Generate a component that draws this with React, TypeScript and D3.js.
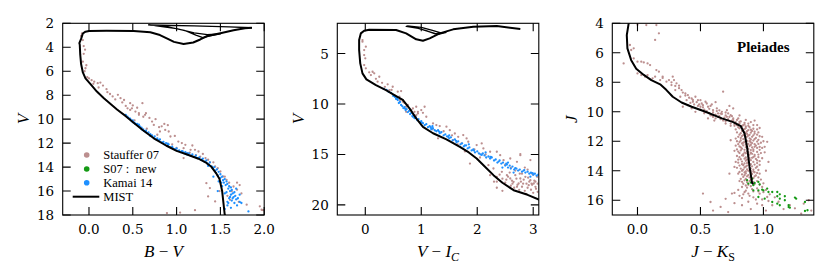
// Pleiades CMD figure, v7 (three panels: B-V, V-Ic, J-Ks)
import * as d3 from 'd3';
import React from 'react';

type Pt = [number, number];

const LEGEND_LABELS = ['Stauffer 07', 'S07 :  new', 'Kamai 14', 'MIST'];

const BV_TICKS = [0.0, 0.5, 1.0, 1.5, 2.0];
const V1_TICKS = [2, 4, 6, 8, 10, 12, 14, 16, 18];
const VI_TICKS = [0, 1, 2, 3];
const V2_TICKS = [5, 10, 15, 20];
const JK_TICKS = [0.0, 0.5, 1.0];
const J_TICKS = [4, 6, 8, 10, 12, 14, 16];

// ---------- Panel 1: B-V vs V ----------
const MIST_BV: Pt[] = [
  [1.57, 18.6], [1.55, 18], [1.535, 17], [1.52, 16], [1.49, 15], [1.45, 14.5], [1.4, 14.0], [1.33, 13.6],
  [1.25, 13.3], [1.12, 12.95], [1.0, 12.65], [0.88, 12.2], [0.74, 11.6], [0.62, 10.95], [0.51, 10.3],
  [0.42, 9.75], [0.32, 9.2], [0.24, 8.7], [0.17, 8.25], [0.09, 7.7], [0.02, 7.1], [-0.04, 6.6], [-0.07, 6.1],
  [-0.09, 5.4], [-0.1, 4.6], [-0.105, 3.8], [-0.11, 3.65], [-0.09, 3.3], [-0.07, 2.85], [-0.04, 2.7],
  [0.0, 2.64], [0.2, 2.63], [0.51, 2.65], [0.7, 2.75], [0.81, 2.98], [0.9, 3.3], [0.97, 3.55], [1.08, 3.72],
  [1.19, 3.6], [1.27, 3.35], [1.35, 3.06], [1.5, 2.83], [1.65, 2.58], [1.78, 2.42], [1.86, 2.37],
];
const MIST_BV_LATE: Pt[] = [
  [1.86, 2.37], [1.6, 2.3], [1.2, 2.22], [0.68, 2.14], [0.9, 2.3], [1.1, 2.62], [1.22, 2.98], [1.3, 3.2],
  [1.38, 3.05], [1.5, 2.88], [1.35, 2.95], [1.2, 2.8], [1.0, 2.45], [0.75, 2.2],
];
const STAUFFER_BV: Pt[] = [
  [-0.08, 2.85], [-0.09, 3.05], [-0.07, 3.4], [-0.06, 3.9], [-0.045, 4.2], [-0.06, 4.55], [-0.07, 5.2],
  [-0.03, 5.5], [-0.04, 5.75], [-0.05, 6.0], [-0.02, 6.5], [0.0, 6.6], [0.03, 6.75], [0.06, 6.87], [0.05, 7.05],
  [0.1, 7.0], [0.13, 6.95], [0.16, 7.2], [0.11, 7.36], [0.2, 7.5], [0.21, 7.75], [0.24, 7.9], [0.27, 8.1],
  [0.33, 7.97], [0.36, 8.25], [0.3, 8.35], [0.4, 8.4], [0.38, 8.6], [0.47, 8.67], [0.61, 8.67], [0.42, 8.9],
  [0.44, 9.1], [0.49, 9.1], [0.5, 8.85], [0.53, 9.37], [0.55, 9.05], [0.47, 9.23], [0.57, 9.5], [0.65, 9.5],
  [0.64, 9.64], [0.57, 9.64], [0.62, 9.8], [0.72, 10.2], [0.74, 10.48], [0.8, 10.67], [0.83, 10.6],
  [0.87, 10.9], [0.91, 11.03], [0.81, 11.03], [0.86, 10.4], [0.9, 10.5], [0.93, 11.45], [1.02, 11.87],
  [1.06, 12.0], [1.1, 12.14], [1.08, 12.42], [1.16, 12.56], [1.21, 12.56], [1.25, 12.7], [1.12, 12.84],
  [1.08, 13.25], [1.27, 13.12], [1.33, 13.25], [1.36, 13.39], [1.38, 13.6], [1.44, 13.95], [1.5, 14.37],
  [1.53, 14.78], [1.57, 15.06], [1.34, 15.34], [1.38, 15.75], [1.65, 15.62], [1.69, 15.89], [1.61, 16.73],
  [1.36, 16.45], [1.44, 16.87], [1.8, 17.14], [1.95, 17.28], [1.97, 17.56], [0.89, 17.84], [1.04, 17.8],
  [1.21, 17.6], [1.69, 15.3], [1.72, 15.5], [1.99, 17.6], [0.98, 11.4], [1.0, 12.4], [0.76, 10.0],
  [0.69, 9.9], [1.18, 12.2], [1.3, 12.9], [1.42, 13.6], [1.47, 14.1], [1.55, 14.8], [1.6, 15.3], [1.63, 16.0],
  [1.58, 16.4], [1.71, 16.9], [1.49, 16.0], [1.74, 16.2], [0.52, 10.1], [0.66, 10.8], [0.78, 11.3],
  [0.95, 12.1], [1.15, 12.8], [1.22, 13.0],
];
const KAMAI_BV: Pt[] = [
  [0.42, 9.65], [0.44, 9.8], [0.45, 9.9], [0.47, 9.95], [0.48, 10.1], [0.5, 10.1], [0.5, 10.25], [0.52, 10.3],
  [0.53, 10.4], [0.55, 10.4], [0.56, 10.55], [0.58, 10.6], [0.6, 10.7], [0.6, 10.85], [0.62, 10.85],
  [0.63, 11.0], [0.65, 10.95], [0.66, 11.15], [0.68, 11.1], [0.7, 11.25], [0.7, 11.4], [0.72, 11.35],
  [0.74, 11.55], [0.75, 11.45], [0.77, 11.7], [0.78, 11.6], [0.8, 11.8], [0.81, 11.7], [0.83, 11.95],
  [0.85, 11.9], [0.86, 12.1], [0.88, 12.0], [0.9, 12.2], [0.91, 12.1], [0.93, 12.35], [0.95, 12.3],
  [0.96, 12.45], [0.98, 12.5], [1.0, 12.45], [1.01, 12.65], [1.03, 12.6], [1.05, 12.75], [1.07, 12.7],
  [1.09, 12.85], [1.1, 12.75], [1.12, 12.95], [1.14, 12.85], [1.16, 13.05], [1.18, 12.95], [1.2, 13.15],
  [1.22, 13.05], [1.24, 13.25], [1.26, 13.2], [1.28, 13.4], [1.3, 13.3], [1.32, 13.55], [1.34, 13.45],
  [1.35, 13.7], [1.37, 13.8], [1.38, 13.6], [1.4, 13.95], [1.41, 14.1], [1.43, 14.0], [1.44, 14.3],
  [1.46, 14.2], [1.45, 14.5], [1.48, 14.4], [1.47, 14.7], [1.5, 14.6], [1.5, 14.9], [1.52, 14.8],
  [1.53, 15.1], [1.55, 15.0], [1.54, 15.3], [1.57, 15.2], [1.56, 15.5], [1.58, 15.4], [1.6, 15.6],
  [1.59, 15.8], [1.62, 15.7], [1.61, 16.0], [1.63, 15.9], [1.64, 16.2], [1.62, 16.3], [1.66, 16.1],
  [1.65, 16.5], [1.67, 16.4], [1.6, 16.6], [1.68, 16.7], [1.63, 16.8], [1.7, 16.6], [1.58, 16.9],
  [1.66, 17.0], [1.72, 16.9], [1.55, 16.2], [1.52, 15.6], [1.48, 15.2], [1.58, 17.2], [1.62, 17.4],
  [1.69, 17.2], [1.74, 17.0], [1.55, 17.5], [1.82, 17.7], [1.47, 16.0], [1.42, 14.8], [1.72, 16.3],
  [1.68, 15.8], [1.36, 13.9], [1.12, 12.85], [0.9, 12.05], [0.65, 11.05], [0.57, 10.45], [0.79, 11.75],
  [1.06, 12.68], [1.29, 13.35], [1.57, 16.1], [1.61, 16.5], [1.51, 15.3], [1.64, 16.6], [1.59, 17.0],
];

// ---------- Panel 2: V-I vs V ----------
const MIST_VI: Pt[] = [
  [3.2, 19.8], [3.1, 19.46], [2.9, 19.0], [2.65, 18.54], [2.45, 17.8], [2.29, 17.05], [2.17, 16.4],
  [2.08, 15.9], [1.99, 15.4], [1.85, 14.8], [1.69, 14.24], [1.45, 13.5], [1.21, 12.9], [1.03, 12.26],
  [0.91, 11.42], [0.79, 10.43], [0.67, 9.6], [0.52, 9.11], [0.37, 8.62], [0.19, 8.12], [0.02, 7.56],
  [-0.05, 6.96], [-0.09, 5.97], [-0.11, 4.65], [-0.11, 3.66], [-0.08, 3.0], [-0.02, 2.73], [0.07, 2.63],
  [0.55, 2.66], [0.73, 3.0], [0.91, 3.59], [1.03, 3.73], [1.15, 3.49], [1.33, 3.0], [1.57, 2.6],
  [1.93, 2.34], [2.35, 2.27], [2.77, 2.57],
];
const MIST_VI_LATE: Pt[] = [
  [1.45, 2.9], [1.3, 3.1], [1.15, 2.85], [0.95, 2.5], [0.73, 2.3], [0.9, 2.42], [1.1, 2.75], [1.25, 3.05],
  [1.35, 2.95], [1.2, 2.7], [1.0, 2.4], [0.75, 2.25],
];
const STAUFFER_VI: Pt[] = [
  [-0.05, 3.66], [-0.05, 3.82], [0.01, 4.32], [-0.02, 4.65], [-0.02, 5.15], [0.0, 5.47], [-0.02, 6.14],
  [0.01, 6.46], [0.07, 6.86], [0.1, 7.13], [0.16, 6.96], [0.13, 6.8], [0.25, 7.3], [0.19, 7.5], [0.22, 7.79],
  [0.4, 8.05], [0.49, 8.29], [0.43, 8.62], [0.58, 8.78], [0.64, 8.72], [0.52, 9.11], [0.61, 9.28],
  [0.67, 9.61], [0.7, 9.9], [0.76, 10.1], [0.82, 10.6], [0.88, 10.77], [0.94, 10.93], [1.0, 10.6],
  [0.91, 10.27], [0.73, 10.77], [0.3, 7.9], [0.35, 8.3], [0.47, 8.6], [0.55, 9.4], [0.62, 9.6],
  [0.67, 9.77], [0.73, 10.27], [0.85, 10.44], [0.94, 10.77], [1.03, 10.87], [0.91, 11.1], [1.06, 10.27],
  [1.09, 11.26], [1.21, 11.92], [1.27, 12.09], [1.33, 12.19], [1.45, 12.25], [1.51, 12.59], [1.6, 12.92],
  [1.66, 13.25], [1.75, 13.08], [1.81, 13.41], [1.57, 13.58], [1.72, 13.91], [1.84, 13.74], [1.99, 14.07],
  [2.08, 13.91], [2.11, 14.4], [2.23, 14.73], [2.35, 14.73], [2.41, 15.07], [2.47, 15.56], [2.59, 15.4],
  [2.71, 15.73], [2.77, 15.07], [2.77, 14.97], [2.95, 15.56], [2.2, 16.06], [2.29, 16.39], [2.23, 17.05],
  [2.35, 17.22], [2.44, 16.72], [2.53, 17.05], [2.59, 17.38], [2.68, 17.05], [2.77, 17.38], [2.86, 17.22],
  [2.95, 17.55], [3.01, 17.88], [3.07, 17.22], [2.92, 18.04], [2.74, 17.88], [2.65, 17.71], [2.98, 16.9],
  [3.04, 18.21], [1.87, 15.9], [2.35, 17.7], [2.4, 17.0], [2.45, 17.4], [2.5, 17.8], [2.55, 17.2],
  [2.6, 18.1], [2.62, 17.6], [2.66, 18.3], [2.7, 17.4], [2.72, 18.0], [2.75, 18.5], [2.78, 17.7],
  [2.8, 18.2], [2.83, 17.5], [2.85, 18.6], [2.88, 17.9], [2.9, 18.3], [2.93, 17.7], [2.96, 18.5],
  [2.98, 18.0], [3.0, 18.8], [3.02, 17.6], [3.05, 18.4], [3.08, 17.9], [3.08, 18.7], [2.58, 16.8],
  [2.68, 16.6], [2.8, 16.9], [2.9, 16.5], [3.0, 17.0], [2.3, 17.7], [2.35, 18.3], [2.45, 18.6], [1.4, 12.7],
  [1.55, 13.1], [1.95, 14.5], [2.15, 15.0], [2.5, 16.0], [2.6, 16.3], [2.85, 16.3], [1.2, 12.5],
  [1.65, 14.0], [2.05, 15.3], [1.3, 13.4], [1.78, 14.7], [2.52, 17.5], [2.63, 17.9], [2.71, 18.2],
  [2.82, 17.9], [2.91, 17.3], [3.04, 17.7], [2.76, 16.9], [2.87, 18.9], [2.97, 17.9],
];
const KAMAI_VI: Pt[] = [
  [0.33, 8.5], [0.38, 8.6], [0.42, 8.8], [0.46, 8.9], [0.5, 9.2], [0.53, 9.3], [0.55, 9.5], [0.58, 9.6],
  [0.6, 9.9], [0.62, 9.8], [0.64, 10.1], [0.66, 10.2], [0.68, 10.4], [0.7, 10.3], [0.72, 10.6], [0.74, 10.5],
  [0.76, 10.8], [0.78, 10.7], [0.8, 11.0], [0.82, 10.9], [0.84, 11.2], [0.86, 11.1], [0.88, 11.4],
  [0.9, 11.3], [0.93, 11.6], [0.95, 11.5], [0.98, 11.8], [1.0, 11.7], [1.03, 11.9], [1.06, 12.1],
  [1.09, 12.0], [1.12, 12.3], [1.15, 12.2], [1.18, 12.5], [1.21, 12.4], [1.24, 12.6], [1.27, 12.7],
  [1.3, 12.6], [1.33, 12.9], [1.36, 12.8], [1.4, 13.1], [1.43, 13.0], [1.46, 13.2], [1.5, 13.4],
  [1.53, 13.3], [1.56, 13.6], [1.6, 13.5], [1.63, 13.8], [1.66, 13.7], [1.7, 14.0], [1.73, 13.9],
  [1.76, 14.2], [1.8, 14.1], [1.83, 14.4], [1.86, 14.3], [1.9, 14.6], [1.93, 14.5], [1.96, 14.8],
  [2.0, 14.7], [2.03, 14.9], [2.06, 15.0], [2.1, 14.9], [2.13, 15.1], [2.16, 15.3], [2.2, 15.2],
  [2.23, 15.4], [2.26, 15.3], [2.3, 15.6], [2.33, 15.5], [2.36, 15.8], [2.4, 15.6], [2.43, 15.9],
  [2.46, 15.8], [2.5, 16.1], [2.52, 15.9], [2.55, 16.3], [2.58, 16.1], [2.6, 16.4], [2.63, 16.2],
  [2.66, 16.5], [2.7, 16.4], [2.73, 16.6], [2.76, 16.5], [2.8, 16.7], [2.83, 16.6], [2.86, 16.8],
  [2.9, 16.7], [2.93, 16.9], [2.96, 16.8], [3.0, 17.0], [3.03, 16.9], [3.06, 17.1], [3.09, 17.0],
  [2.45, 16.3], [2.55, 15.8], [2.15, 14.8], [1.85, 14.0], [1.5, 13.1], [1.2, 12.2], [2.65, 16.8],
  [2.95, 17.2], [0.57, 9.45], [0.71, 10.45], [0.85, 11.25], [1.01, 11.85], [1.17, 12.35], [1.32, 12.75],
  [1.48, 13.25], [1.62, 13.65], [1.78, 14.1], [1.94, 14.6], [2.08, 15.05], [2.24, 15.25], [2.38, 15.7],
  [2.53, 16.0], [2.68, 16.35], [2.84, 16.55], [2.99, 16.85],
];

// ---------- Panel 3: J-Ks vs J ----------
const MIST_JK: Pt[] = [
  [-0.065, 3.8], [-0.07, 4.0], [-0.085, 4.8], [-0.08, 5.7], [-0.05, 6.5], [-0.01, 7.08], [0.05, 7.5],
  [0.11, 7.85], [0.18, 8.14], [0.23, 8.53], [0.28, 8.98], [0.35, 9.37], [0.43, 9.66], [0.54, 10.0],
  [0.67, 10.45], [0.76, 10.7], [0.82, 10.98], [0.85, 11.47], [0.87, 12.38], [0.89, 13.74], [0.91, 14.83],
  [0.92, 14.9],
];
const STAUFFER_JK: Pt[] = [
  [0.0, 4.1], [0.07, 4.12], [0.15, 4.12], [0.17, 4.68], [0.14, 5.13], [-0.06, 5.47], [-0.05, 5.81],
  [-0.03, 5.7], [-0.11, 6.72], [-0.03, 6.38], [0.0, 6.6], [0.03, 6.6], [0.05, 6.65], [0.08, 6.72],
  [0.1, 6.83], [0.0, 7.4], [0.03, 7.51], [0.06, 7.62], [0.08, 7.51], [0.12, 7.73], [0.15, 7.17],
  [0.17, 7.28], [0.14, 7.62], [0.18, 7.85], [0.2, 7.62], [0.23, 7.96], [0.28, 7.62], [0.29, 7.85],
  [0.27, 8.19], [0.31, 8.07], [0.33, 8.23], [0.3, 8.53], [0.35, 8.53], [0.38, 8.76], [0.4, 8.87],
  [0.34, 8.98], [0.39, 9.21], [0.43, 9.1], [0.46, 8.98], [0.44, 9.32], [0.48, 9.21], [0.51, 9.44],
  [0.54, 9.32], [0.56, 9.66], [0.5, 9.66], [0.59, 9.5], [0.63, 9.77], [0.68, 8.64], [0.67, 10.0],
  [0.64, 10.11], [0.71, 9.89], [0.74, 10.23], [0.72, 10.11], [0.76, 9.77], [0.43, 9.77], [0.46, 10.0],
  [0.54, 10.0], [0.59, 10.23], [0.56, 10.45], [0.4, 9.55], [0.36, 9.66], [0.45, 9.5], [0.48, 9.6],
  [0.5, 9.85], [0.52, 9.7], [0.55, 9.95], [0.57, 9.8], [0.6, 10.05], [0.62, 10.2], [0.63, 9.95],
  [0.65, 10.3], [0.67, 10.15], [0.69, 10.4], [0.7, 10.25], [0.72, 10.5], [0.73, 10.35], [0.75, 10.6],
  [0.76, 10.45], [0.78, 10.7], [0.79, 10.55], [0.8, 10.85], [0.82, 10.65], [0.83, 10.95], [0.85, 10.75],
  [0.86, 10.55], [0.88, 10.95], [0.77, 10.95], [0.7, 10.65], [0.62, 10.45], [0.58, 10.25], [0.53, 10.1],
  [0.44, 9.2], [0.5, 9.21], [0.55, 9.44], [0.6, 9.89], [0.66, 10.12], [0.71, 10.34], [0.76, 10.57],
  [0.74, 10.8], [0.81, 10.68], [0.84, 10.91], [0.88, 10.8], [0.79, 10.91], [0.92, 10.9], [0.9, 10.7],
  [0.2, 7.7], [0.25, 7.85], [0.27, 8.0], [0.3, 8.25], [0.33, 8.4], [0.36, 8.7], [0.38, 8.9], [0.41, 9.05],
  [0.42, 9.4], [0.47, 9.35], [0.49, 9.5], [0.52, 9.55], [0.53, 9.85], [0.57, 10.1], [0.6, 10.35],
  [0.64, 10.35], [0.66, 10.5], [0.68, 10.6], [0.7, 10.8], [0.74, 10.95], [0.77, 10.85], [0.81, 10.8],
  [0.85, 10.85], [0.86, 11.0], [0.61, 10.6], [0.65, 9.9], [0.7, 10.05], [0.58, 9.6], [0.75, 10.3],
  [0.8, 10.45], [0.93, 10.6], [0.95, 10.9], [0.97, 11.1], [0.73, 9.6], [0.62, 9.35], [0.81, 10.25],
  [0.8, 11.05], [0.83, 11.0], [0.86, 11.1], [0.89, 11.05], [0.92, 11.15], [0.78, 11.2], [0.84, 11.22],
  [0.88, 11.25], [0.91, 11.3], [0.95, 11.2], [0.79, 11.4], [0.82, 11.45], [0.85, 11.38], [0.87, 11.5],
  [0.9, 11.42], [0.93, 11.48], [0.96, 11.4], [0.81, 11.55], [0.8, 11.7], [0.83, 11.65], [0.86, 11.75],
  [0.88, 11.62], [0.91, 11.7], [0.94, 11.78], [0.97, 11.66], [0.84, 11.85], [0.9, 11.88], [0.78, 11.82],
  [0.79, 12.0], [0.82, 11.95], [0.85, 12.05], [0.87, 11.98], [0.9, 12.08], [0.92, 11.95], [0.95, 12.02],
  [0.98, 12.1], [0.83, 12.15], [0.88, 12.18], [0.93, 12.2], [1.0, 12.0], [0.78, 12.3], [0.81, 12.35],
  [0.84, 12.28], [0.86, 12.4], [0.89, 12.32], [0.91, 12.42], [0.94, 12.3], [0.97, 12.38], [0.99, 12.45],
  [0.83, 12.5], [0.88, 12.52], [0.92, 12.55], [0.77, 12.65], [0.8, 12.7], [0.82, 12.62], [0.85, 12.75],
  [0.87, 12.68], [0.9, 12.78], [0.92, 12.66], [0.95, 12.72], [0.98, 12.8], [0.84, 12.88], [0.89, 12.9],
  [0.93, 12.92], [1.01, 12.75], [0.79, 13.0], [0.81, 13.08], [0.84, 12.98], [0.86, 13.1], [0.88, 13.02],
  [0.91, 13.12], [0.93, 13.0], [0.96, 13.08], [0.82, 13.22], [0.87, 13.25], [0.9, 13.28], [0.94, 13.2],
  [0.99, 13.15], [0.78, 13.4], [0.8, 13.45], [0.83, 13.38], [0.85, 13.5], [0.88, 13.42], [0.9, 13.55],
  [0.92, 13.4], [0.95, 13.48], [0.84, 13.62], [0.87, 13.65], [0.91, 13.7], [0.97, 13.6], [0.79, 13.8],
  [0.82, 13.85], [0.85, 13.78], [0.87, 13.9], [0.89, 13.82], [0.92, 13.92], [0.94, 13.8], [0.83, 14.0],
  [0.86, 14.05], [0.9, 14.02], [0.93, 14.1], [0.96, 13.95], [0.8, 14.2], [0.83, 14.25], [0.86, 14.18],
  [0.88, 14.3], [0.91, 14.22], [0.94, 14.32], [0.97, 14.2], [0.84, 14.42], [0.89, 14.45], [0.92, 14.5],
  [0.82, 14.55], [0.81, 14.7], [0.85, 14.65], [0.87, 14.78], [0.9, 14.62], [0.95, 14.7], [0.98, 14.6],
  [0.84, 14.88], [0.88, 14.95], [0.93, 14.9], [1.0, 14.85], [0.83, 15.1], [0.87, 15.15], [0.9, 15.05],
  [0.95, 15.2], [0.99, 15.1], [0.8, 15.3], [0.86, 15.35], [0.92, 15.4], [1.02, 15.3], [0.77, 15.5],
  [0.84, 15.6], [0.97, 15.55], [0.75, 15.55], [0.89, 15.7], [1.05, 15.6], [0.83, 15.85], [0.94, 15.95],
  [1.09, 15.8], [0.58, 16.12], [0.6, 16.7], [0.83, 16.34], [0.95, 16.23], [1.03, 15.78], [1.07, 16.34],
  [0.99, 16.34], [1.21, 16.34], [1.32, 16.23], [1.36, 16.0], [1.38, 16.7], [1.16, 16.6], [0.7, 15.9],
  [0.52, 15.55], [0.74, 11.93], [0.77, 13.74], [1.03, 12.04], [1.01, 12.38], [0.99, 11.7], [1.04, 13.4],
  [0.73, 14.2], [1.02, 14.0],
  [0.81, 11.12], [0.85, 11.18], [0.87, 11.32], [0.9, 11.22], [0.83, 11.3], [0.93, 11.35], [0.86, 11.45],
  [0.89, 11.56], [0.84, 11.58], [0.92, 11.6], [0.95, 11.55], [0.87, 11.68], [0.82, 11.78], [0.89, 11.8],
  [0.93, 11.85], [0.96, 11.9], [0.86, 11.92], [0.81, 12.05], [0.84, 12.1], [0.89, 12.0], [0.91, 12.12],
  [0.96, 12.18], [0.86, 12.22], [0.8, 12.2], [0.9, 12.25], [0.95, 12.45], [0.82, 12.42], [0.87, 12.46],
  [0.93, 12.38], [0.85, 12.58], [0.9, 12.6], [0.97, 12.58], [0.79, 12.55], [0.86, 12.82], [0.91, 12.85],
  [0.96, 12.9], [0.81, 12.8], [0.88, 12.72], [0.83, 12.95], [0.89, 13.15], [0.92, 13.08], [0.85, 13.18],
  [0.95, 13.3], [0.8, 13.25], [0.86, 13.32], [0.97, 13.35], [0.83, 13.55], [0.87, 13.48], [0.89, 13.62],
  [0.93, 13.58], [0.81, 13.65], [0.86, 13.72], [0.95, 13.72], [0.9, 13.85], [0.84, 13.92], [0.88, 14.0],
  [0.92, 14.05], [0.81, 14.08], [0.95, 14.15], [0.85, 14.12], [0.9, 14.15], [0.87, 14.38], [0.93, 14.38],
  [0.85, 14.3], [0.91, 14.55], [0.86, 14.55], [0.96, 14.45], [0.89, 14.7], [0.83, 14.75], [0.92, 14.78],
  [0.97, 14.95], [0.86, 15.0], [0.91, 15.25], [0.85, 15.45], [0.88, 15.55], [0.96, 15.4], [1.0, 15.45],
  [0.81, 15.7], [0.92, 15.8], [0.99, 15.95], [1.04, 16.05], [0.88, 16.1], [0.77, 16.2], [1.12, 16.1],
  [1.25, 16.55], [1.3, 16.9], [0.66, 16.45], [0.72, 16.8], [0.9, 16.6], [1.02, 16.7],
];
const NEW_JK: Pt[] = [
  [0.87, 14.64], [0.88, 14.87], [0.91, 14.53], [0.93, 14.83], [0.96, 14.76], [0.97, 14.92], [0.92, 14.98],
  [0.9, 14.8], [0.99, 15.28], [1.0, 15.33], [1.03, 15.21], [0.96, 15.78], [0.92, 15.33], [1.01, 15.89],
  [1.07, 15.44], [1.11, 15.44], [1.11, 15.73], [1.13, 15.6], [1.13, 15.89], [1.17, 15.73], [1.17, 16.0],
  [1.13, 16.34], [1.07, 16.12], [1.2, 16.34], [1.21, 16.5], [1.26, 15.89], [1.35, 16.68], [1.33, 16.12],
  [0.96, 15.33], [1.04, 15.44], [1.11, 16.23], [1.2, 16.46], [1.33, 16.73], [1.25, 15.82],
];

// ---------- styling ----------
const C_STAUFFER = '#bc8f8f';
const C_KAMAI = '#1e90ff';
const C_NEW = '#159a15';
const SERIF = { fontFamily: "'Liberation Serif'" };
const TICKSERIF = { fontFamily: "'DejaVu Serif'" };
const TOP = 23.3;
const BOTTOM = 215;
const PW = 201.5;
const TICK = 8;
const R = 1.15;

interface Series { data: Pt[]; color: string }

interface PanelProps {
  id: string;
  left: number;
  xDomain: [number, number];
  yDomain: [number, number];
  xTicks: number[];
  yTicks: number[];
  xFmt: (v: number) => string;
  series: Series[];
  lines: Pt[][];
  xLabel: React.ReactNode;
  yLabel: string;
  yLabelX: number;
}

function dotsPath(data: Pt[], x: d3.ScaleLinear<number, number>, y: d3.ScaleLinear<number, number>) {
  const p = d3.path();
  for (const d of data) {
    const cx = x(d[0]);
    const cy = y(d[1]);
    p.moveTo(cx + R, cy);
    p.arc(cx, cy, R, 0, Math.PI * 2);
  }
  return p.toString();
}

function Panel(p: PanelProps) {
  const x = d3.scaleLinear().domain(p.xDomain).range([p.left, p.left + PW]);
  const y = d3.scaleLinear().domain(p.yDomain).range([TOP, BOTTOM]);
  const line = d3.line<Pt>().x(d => x(d[0])).y(d => y(d[1]));
  const right = p.left + PW;
  const tickPath = [
    ...p.xTicks.map(t => `M${x(t)},${BOTTOM}V${BOTTOM - TICK}M${x(t)},${TOP}V${TOP + TICK}`),
    ...p.yTicks.map(t => `M${p.left},${y(t)}H${p.left + TICK}M${right},${y(t)}H${right - TICK}`),
  ].join('');
  return (
    <g>
      <defs>
        <clipPath id={p.id}>
          <rect x={p.left} y={TOP} width={PW} height={BOTTOM - TOP} />
        </clipPath>
      </defs>
      <g clipPath={`url(#${p.id})`}>
        {p.series.map((s, si) => (
          <path key={si} d={dotsPath(s.data, x, y)} fill={s.color} />
        ))}
        {p.lines.map((l, i) => (
          <path key={i} d={line(l) || ''} fill="none" stroke="#000" strokeWidth={i === 0 ? 2 : 1.3} strokeLinejoin="round" />
        ))}
      </g>
      <rect x={p.left} y={TOP} width={PW} height={BOTTOM - TOP} fill="none" stroke="#000" strokeWidth={1.1} />
      <path d={tickPath} stroke="#000" strokeWidth={1.1} fill="none" />
      {p.xTicks.map(t => (
        <text key={'x' + t} x={x(t)} y={BOTTOM + 19} textAnchor="middle" fontSize={13.5} style={TICKSERIF}>{p.xFmt(t)}</text>
      ))}
      {p.yTicks.map(t => (
        <text key={'y' + t} x={p.left - 8.5} y={y(t) + 5} textAnchor="end" fontSize={13.5} style={TICKSERIF}>{t}</text>
      ))}
      <text x={p.left + PW / 2} y={256.5} textAnchor="middle" fontSize={17} style={SERIF}>{p.xLabel}</text>
      <text transform={`translate(${p.yLabelX},${(TOP + BOTTOM) / 2}) rotate(-90)`} textAnchor="middle" fontSize={17} fontStyle="italic" style={SERIF}>{p.yLabel}</text>
    </g>
  );
}

export default function App() {
  const fmt1 = (v: number) => v.toFixed(1);
  const fmt0 = (v: number) => String(v);
  const legendX = 86.7;
  const legendRows = [155, 169, 182.7, 196.7];
  const legendColors = [C_STAUFFER, C_NEW, C_KAMAI];
  return (
    <div style={{ position: 'absolute', left: 0, top: 0 }}>
      <svg width={830} height={277} style={{ display: 'block', background: '#fff' }}>
        <Panel
          id="p1" left={62.7} xDomain={[-0.3, 2.0]} yDomain={[2, 18]} xTicks={BV_TICKS} yTicks={V1_TICKS}
          xFmt={fmt1}
          series={[{ data: STAUFFER_BV, color: C_STAUFFER }, { data: KAMAI_BV, color: C_KAMAI }]}
          lines={[MIST_BV, MIST_BV_LATE]}
          xLabel={<><tspan fontStyle="italic">B</tspan><tspan> − </tspan><tspan fontStyle="italic">V</tspan></>}
          yLabel="V" yLabelX={29}
        />
        <Panel
          id="p2" left={337.3} xDomain={[-0.5, 3.1]} yDomain={[2, 21]} xTicks={VI_TICKS} yTicks={V2_TICKS}
          xFmt={fmt0}
          series={[{ data: STAUFFER_VI, color: C_STAUFFER }, { data: KAMAI_VI, color: C_KAMAI }]}
          lines={[MIST_VI, MIST_VI_LATE]}
          xLabel={<><tspan fontStyle="italic">V</tspan><tspan> − </tspan><tspan fontStyle="italic">I</tspan><tspan fontStyle="italic" fontSize={12} dy={4}>C</tspan></>}
          yLabel="V" yLabelX={304}
        />
        <Panel
          id="p3" left={612.3} xDomain={[-0.2, 1.4]} yDomain={[4, 17]} xTicks={JK_TICKS} yTicks={J_TICKS}
          xFmt={fmt1}
          series={[{ data: STAUFFER_JK, color: C_STAUFFER }, { data: NEW_JK, color: C_NEW }]}
          lines={[MIST_JK]}
          xLabel={<><tspan fontStyle="italic">J</tspan><tspan> − </tspan><tspan fontStyle="italic">K</tspan><tspan fontSize={12} dy={4}>S</tspan></>}
          yLabel="J" yLabelX={577}
        />
        <text x={737} y={52} fontSize={15} fontWeight="bold" style={SERIF}>Pleiades</text>
        {legendColors.map((c, i) => (
          <circle key={i} cx={legendX} cy={legendRows[i]} r={2.8} fill={c} />
        ))}
        <line x1={72.7} x2={99.3} y1={legendRows[3]} y2={legendRows[3]} stroke="#000" strokeWidth={2} />
        {LEGEND_LABELS.map((l, i) => (
          <text key={l} x={103.3} y={legendRows[i] + 4.3} fontSize={12.5} style={{ ...SERIF, whiteSpace: 'pre' }}>{l}</text>
        ))}
      </svg>
    </div>
  );
}
